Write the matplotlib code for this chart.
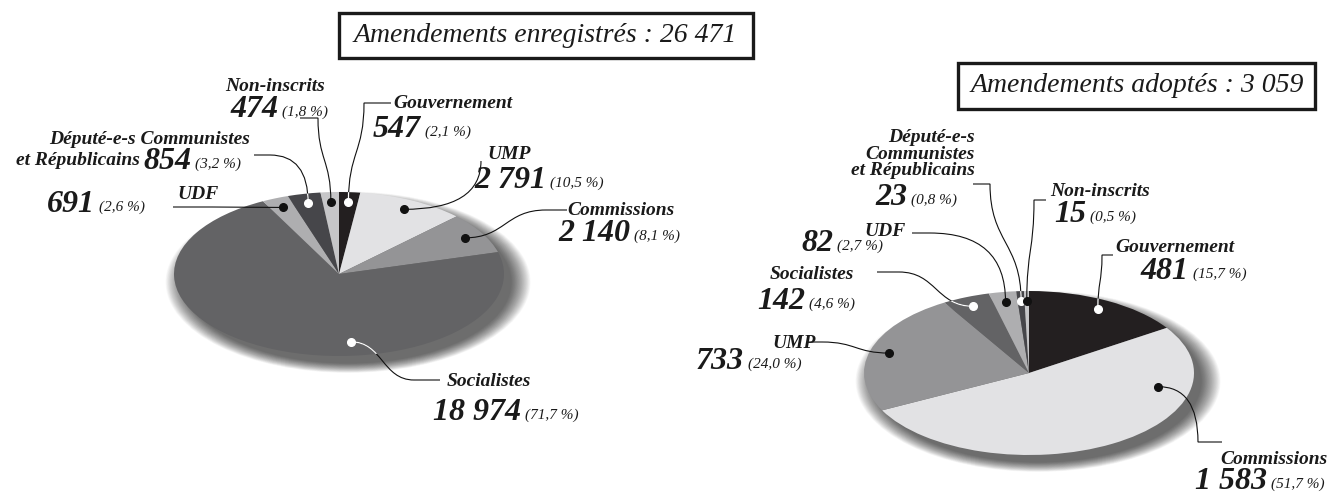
import matplotlib
matplotlib.use("Agg")
import matplotlib.pyplot as plt
import numpy as np
from matplotlib.patches import Ellipse, Rectangle, PathPatch
from matplotlib.path import Path
from matplotlib.colors import to_rgb

plt.rcParams['font.family'] = ['Liberation Serif', 'DejaVu Serif']

W, H = 1335, 495

# --- data -------------------------------------------------------------
left_groups = ["Gouvernement", "UMP", "Commissions", "Socialistes", "UDF",
               "Communistes", "Non-inscrits"]
left_values = [547, 2791, 2140, 18974, 691, 854, 474]

right_groups = ["Gouvernement", "Commissions", "UMP", "Socialistes", "UDF",
                "Communistes", "Non-inscrits"]
right_values = [481, 1583, 733, 142, 82, 23, 15]

slice_colors = ["#231f20", "#e2e2e4", "#949496", "#636365", "#aeaeb0",
                "#46464a", "#c6c6c8"]

left_title = "Amendements enregistrés : "
right_title = "Amendements adoptés : "

# --- layout (pixel coords, y from top) --------------------------------
# name lines: (text, x, y, ha); num: (x, y); tick: (p0, p1); dot: (angle, r) override
left_layout = {
    "Non-inscrits": dict(names=[("Non-inscrits", 275, 91, "center")], num=(230, 117),
                         tick=((300, 118), (318, 118)), style="sv"),
    "Gouvernement": dict(names=[("Gouvernement", 393, 108, "left")], num=(373, 137),
                         tick=((391, 103), (364, 103)), style="sv"),
    "UMP": dict(names=[("UMP", 487, 159, "left")], num=(474, 188),
                tick=((481, 161), (481, 161)), style="v"),
    "Commissions": dict(names=[("Commissions", 567, 215, "left")], num=(558, 241),
                        tick=((567, 210), (546, 210)), style="s"),
    "Socialistes": dict(names=[("Socialistes", 447, 386, "left")], num=(433, 420),
                        tick=((440, 380), (414, 380)), style="s", dot=(-85, 0.83)),
    "UDF": dict(names=[("UDF", 177, 199, "left")], num=(47, 212),
                tick=((173, 207), (212, 207)), style="s"),
    "Communistes": dict(names=[("Député-e-s Communistes", 250, 144, "right"),
                               ("et Républicains", 140, 165, "right")], num=(143, 169),
                        tick=((254, 155), (270, 155)), style="h"),
}

right_layout = {
    "Communistes": dict(names=[("Député-e-s", 975, 142, "right"),
                               ("Communistes", 975, 159, "right"),
                               ("et Républicains", 975, 175, "right")], num=(875, 205),
                        tick=((973, 184), (990, 184)), style="sv"),
    "Non-inscrits": dict(names=[("Non-inscrits", 1050, 196, "left")], num=(1054, 222),
                         tick=((1046, 200), (1034, 200)), style="sv"),
    "UDF": dict(names=[("UDF", 864, 236, "left")], num=(801, 251),
                tick=((912, 233), (930, 233)), style="h"),
    "Gouvernement": dict(names=[("Gouvernement", 1115, 252, "left")], num=(1141, 279),
                         tick=((1113, 255), (1102, 255)), style="sv"),
    "Socialistes": dict(names=[("Socialistes", 770, 279, "left")], num=(757, 309),
                        tick=((877, 272), (899, 272)), style="s"),
    "UMP": dict(names=[("UMP", 772, 348, "left")], num=(696, 369),
                tick=((809, 342), (822, 342)), style="s"),
    "Commissions": dict(names=[("Commissions", 1220, 464, "left")], num=(1195, 489),
                        tick=((1222, 442), (1198, 442)), style="v", dot=(-12, 0.8)),
}


def fmt_int(v):
    return f"{v:,}".replace(",", " ")


def fmt_pct(v, total):
    return "(" + f"{100 * v / total:.1f}".replace(".", ",") + " %)"


fig = plt.figure(figsize=(W / 100, H / 100), dpi=100)
fig.patch.set_facecolor("white")


def draw_pie(cx, cy, values):
    axp = fig.add_axes([(cx - 165) / W, 1 - (cy + 82) / H, 330 / W, 164 / H])
    # soft shadow towards the lower right (stack of faint ellipses)
    n = 32
    for k in range(n):
        s = 1.98 + k * 0.0075
        axp.add_patch(Ellipse((0.055, -0.10), s, s, facecolor="black", alpha=0.022,
                              linewidth=0, zorder=0, clip_on=False))
    wedges, _ = axp.pie(values, colors=slice_colors, startangle=90, counterclock=False,
                        radius=1, wedgeprops=dict(linewidth=0, zorder=2))
    for w in wedges:
        w.set_clip_on(False)
    axp.set_aspect("auto")
    axp.set_xlim(-1, 1)
    axp.set_ylim(-1, 1)
    axp.axis("off")
    return axp, wedges


axl, wl = draw_pie(339, 274, left_values)
axr, wr = draw_pie(1029, 373, right_values)

over = fig.add_axes([0, 0, 1, 1])
over.set_xlim(0, W)
over.set_ylim(H, 0)
over.axis("off")
over.patch.set_alpha(0)


def to_over(axp, pt):
    return over.transData.inverted().transform(axp.transData.transform(pt))


def leader(p0, p1, d, style):
    (x1, y1), (xd, yd) = p1, d
    if style == "s":
        mx = (x1 + xd) / 2
        verts = [p0, p1, (mx, y1), (mx, yd), d]
        codes = [Path.MOVETO, Path.LINETO, Path.CURVE4, Path.CURVE4, Path.CURVE4]
    elif style == "sv":
        my = (y1 + yd) / 2
        verts = [p0, p1, (x1, my), (xd, my), d]
        codes = [Path.MOVETO, Path.LINETO, Path.CURVE4, Path.CURVE4, Path.CURVE4]
    elif style == "h":
        verts = [p0, p1, (xd, y1), d]
        codes = [Path.MOVETO, Path.LINETO, Path.CURVE3, Path.CURVE3]
    else:  # "v"
        verts = [p0, p1, (x1, yd), d]
        codes = [Path.MOVETO, Path.LINETO, Path.CURVE3, Path.CURVE3]
    return Path(verts, codes)


def draw_labels(axp, wedges, groups, values, layout):
    total = sum(values)
    for g, v, w, col in zip(groups, values, wedges, slice_colors):
        lay = layout[g]
        ang, r = lay.get("dot", ((w.theta1 + w.theta2) / 2, 0.88))
        a = np.radians(ang)
        d = to_over(axp, (r * np.cos(a), r * np.sin(a)))
        dark = np.mean(to_rgb(col)) < 0.45
        path = leader(lay["tick"][0], lay["tick"][1], tuple(d), lay["style"])
        over.add_patch(PathPatch(path, facecolor="none", edgecolor="#111111", lw=0.8, zorder=3))
        if dark:
            wp = PathPatch(path, facecolor="none", edgecolor="white", lw=0.9, zorder=4)
            over.add_patch(wp)
            wp.set_clip_path(w)
        over.plot(d[0], d[1], "o", ms=5.5, mfc="white" if dark else "#111111",
                  mec="white" if dark else "#111111", zorder=5)
        for txt, x, y, ha in lay["names"]:
            over.text(x, y, txt, fontsize=14, fontweight="bold", style="italic",
                      ha=ha, va="baseline", color="#1a1a1a")
        t = over.text(lay["num"][0], lay["num"][1], fmt_int(v), fontsize=23,
                      fontweight="bold", style="italic", ha="left", va="baseline",
                      color="#1a1a1a")
        over.annotate(fmt_pct(v, total), xy=(1, 0), xycoords=t, xytext=(3, 3.5),
                      textcoords="offset points", fontsize=11, style="italic",
                      ha="left", va="bottom", color="#1a1a1a")


draw_labels(axl, wl, left_groups, left_values, left_layout)
draw_labels(axr, wr, right_groups, right_values, right_layout)

# title boxes
over.add_patch(Rectangle((339, 13), 414, 45, fill=False, lw=2.4, edgecolor="#1a1a1a"))
over.text(545, 36, left_title + fmt_int(sum(left_values)), fontsize=20, style="italic",
          ha="center", va="center", color="#1a1a1a")
over.add_patch(Rectangle((958, 63), 357, 46, fill=False, lw=2.4, edgecolor="#1a1a1a"))
over.text(1137, 86, right_title + fmt_int(sum(right_values)), fontsize=20, style="italic",
          ha="center", va="center", color="#1a1a1a")

fig.savefig("out.png", dpi=100)
